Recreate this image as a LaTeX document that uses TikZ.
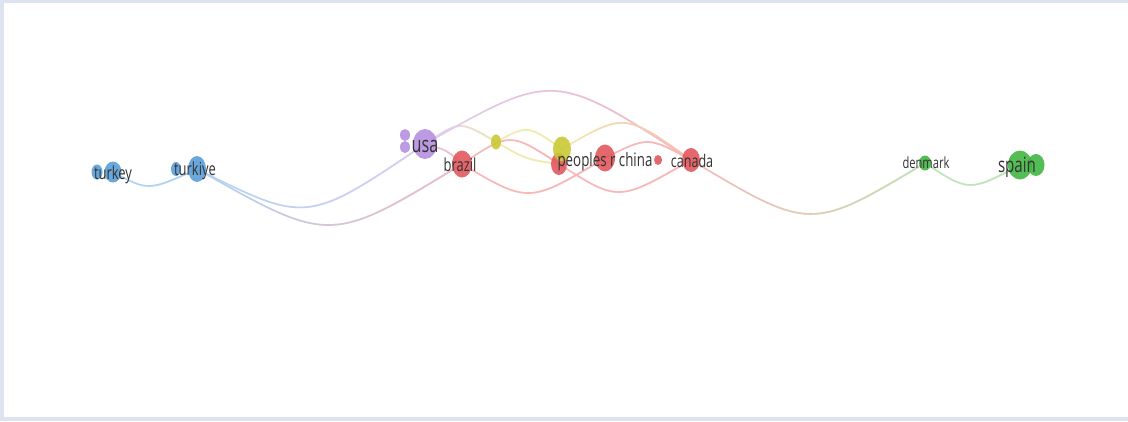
\documentclass[tikz,border=0pt]{standalone}
\usepackage{fontspec}
\newfontfamily\labelfont{Open Sans}
\usetikzlibrary{shapes.geometric,calc,fadings}

% cluster colours: node fill and (lighter) link colour
\definecolor{frameC}{RGB}{221,227,240}
\definecolor{nBlue}{RGB}{86,156,216}    \definecolor{lBlue}{RGB}{178,211,243}
\definecolor{nPurple}{RGB}{180,142,224} \definecolor{lPurple}{RGB}{222,205,245}
\definecolor{nRed}{RGB}{226,84,90}      \definecolor{lRed}{RGB}{249,184,184}
\definecolor{nYellow}{RGB}{200,200,50}  \definecolor{lYellow}{RGB}{238,236,174}
\definecolor{nGreen}{RGB}{62,180,62}    \definecolor{lGreen}{RGB}{188,230,182}

\tikzfading[name=fadeR, left color=transparent!100, right color=transparent!0]

\pgfdeclarelayer{bg}
\pgfdeclarelayer{edges}
\pgfsetlayers{bg,edges,main}

\tikzset{
  blob/.style={ellipse, inner sep=0pt, draw=none, fill opacity=0.88},
  edge/.style={line width=1.6pt, line cap=round},
  lbl/.style={font=\labelfont\fontsize{#1}{#1}\selectfont, text=black!80,
              anchor=base, inner sep=0pt, xscale=0.72},
}

% curved link from #1 to #2 passing through the point #3,
% coloured from #4 (start) to #5 (end)
\newcommand\vlink[5]{%
  \begin{pgfonlayer}{edges}
    \draw[edge, draw=#4] (#1.center)
      .. controls ($1.3333*(#3)-0.16667*(#1.center)-0.16667*(#2.center)$) .. (#2.center);
    \draw[edge, draw=#5, path fading=fadeR] (#1.center)
      .. controls ($1.3333*(#3)-0.16667*(#1.center)-0.16667*(#2.center)$) .. (#2.center);
  \end{pgfonlayer}}

\begin{document}
\begin{tikzpicture}[x=1pt, y=-1pt]
  \useasboundingbox (0,0) rectangle (1128,421);
  \begin{pgfonlayer}{bg}
    \fill[frameC] (0,0) rectangle (1128,421);
    \fill[white] (4,3) rectangle (1128,417);
  \end{pgfonlayer}

  % blue cluster
  \node[blob, fill=nBlue, minimum width=11, minimum height=15] (tky1) at (97,172) {};
  \node[blob, fill=nBlue, minimum width=17, minimum height=21] (tky) at (113,172) {};
  \node[blob, fill=nBlue, minimum width=10, minimum height=14] (tkye1) at (176,169) {};
  \node[blob, fill=nBlue, minimum width=18, minimum height=26] (tkye) at (197,169) {};
  % purple cluster
  \node[blob, fill=nPurple, minimum width=10, minimum height=12] (usa1) at (405,135) {};
  \node[blob, fill=nPurple, minimum width=10, minimum height=12] (usa2) at (405,147) {};
  \node[blob, fill=nPurple, minimum width=24, minimum height=30] (usa) at (425,144) {};
  % red cluster
  \node[blob, fill=nRed, minimum width=20, minimum height=27] (bra) at (462,164) {};
  \node[blob, fill=nRed, minimum width=16, minimum height=22] (prc) at (559,164) {};
  \node[blob, fill=nRed, minimum width=20, minimum height=27] (chn) at (605,158) {};
  \node[blob, fill=nRed, minimum width=8, minimum height=10] (sred) at (658,160) {};
  \node[blob, fill=nRed, minimum width=18, minimum height=24] (can) at (691,160) {};
  % yellow cluster
  \node[blob, fill=nYellow, minimum width=10, minimum height=15] (ys) at (496,142) {};
  \node[blob, fill=nYellow, minimum width=18, minimum height=25] (yb) at (562,149) {};
  % green cluster
  \node[blob, fill=nGreen, minimum width=12, minimum height=15] (den) at (925,163) {};
  \node[blob, fill=nGreen, minimum width=24, minimum height=29] (spa) at (1020,165) {};
  \node[blob, fill=nGreen, minimum width=17, minimum height=22] (spa2) at (1036,165) {};

  % links
  \vlink{tky}{tkye}{150,186}{lBlue}{lBlue}
  \vlink{tkye}{usa}{308,207}{lBlue}{lPurple}
  \vlink{tkye}{bra}{330,225}{lBlue}{lRed}
  \vlink{usa}{bra}{446,151}{lPurple}{lRed}
  \vlink{usa}{ys}{460,126}{lPurple}{lYellow}
  \vlink{usa}{can}{555,91}{lPurple}{lRed}
  \vlink{bra}{prc}{510,140}{lRed}{lRed}
  \vlink{bra}{chn}{530,193}{lRed}{lRed}
  \vlink{ys}{yb}{528,130}{lYellow}{lYellow}
  \vlink{ys}{prc}{527,158}{lYellow}{lYellow}
  \vlink{yb}{can}{625,123}{lYellow}{lRed}
  \vlink{prc}{can}{620,192}{lRed}{lRed}
  \vlink{chn}{can}{648,142}{lRed}{lRed}
  \vlink{can}{den}{810,214}{lRed}{lGreen}
  \vlink{den}{spa}{970,185}{lGreen}{lGreen}

  % labels
  \node[lbl=18] (tkyL) at (113,179) {turkey};
  \node[lbl=18] (tkyeL) at (195,175) {turkiye};
  \node[lbl=22.5] (usaL) at (425,152) {usa};
  \node[lbl=18] (braL) at (460,171) {brazil};
  \node[lbl=18.5] (chnL) at (605,166) {peoples r china};
  \node[lbl=17.5] (canL) at (692,167) {canada};
  \node[lbl=15.5] (denL) at (926,168) {denmark};
  \node[lbl=21] (spaL) at (1017,172) {spain};
\end{tikzpicture}
\end{document}
